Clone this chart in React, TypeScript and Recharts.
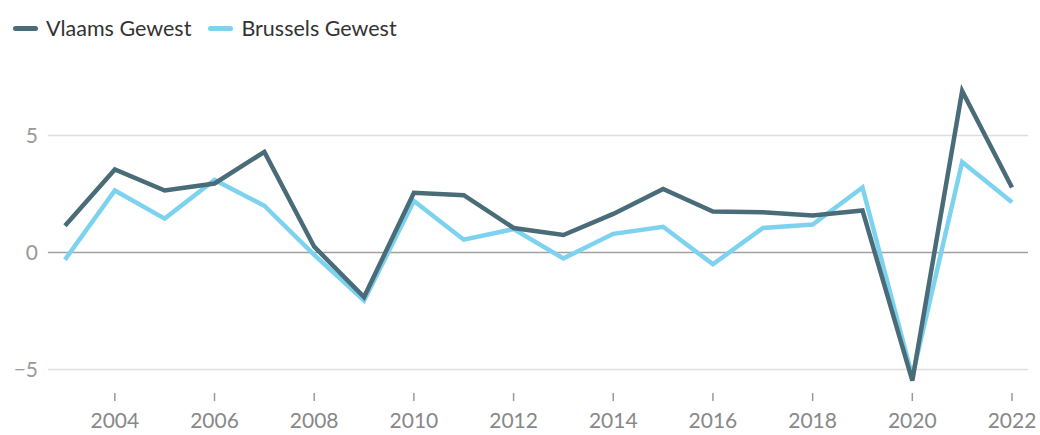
import React from 'react';
import { LineChart, Line, XAxis, YAxis, ReferenceLine } from 'recharts';

const years = [2003, 2004, 2005, 2006, 2007, 2008, 2009, 2010, 2011, 2012, 2013, 2014, 2015, 2016, 2017, 2018, 2019, 2020, 2021, 2022];
const vlaams = [1.15, 3.55, 2.65, 2.95, 4.3, 0.25, -1.9, 2.55, 2.45, 1.05, 0.75, 1.65, 2.72, 1.75, 1.72, 1.58, 1.8, -5.47, 6.9, 2.78];
const brussels = [-0.3, 2.65, 1.45, 3.1, 2.0, -0.1, -2.05, 2.2, 0.55, 1.0, -0.25, 0.8, 1.1, -0.5, 1.05, 1.2, 2.78, -5.3, 3.87, 2.15];
const xTicks = [2004, 2006, 2008, 2010, 2012, 2014, 2016, 2018, 2020, 2022];
const yTicks = [-5, 0, 5];
const gridValues = [-5, 5];

const DARK = '#4a6b78';
const LIGHT = '#7dd3ef';
const FONT = 'Lato, "Noto Sans", sans-serif';

const data = years.map((year, i) => ({
  year,
  'Vlaams Gewest': vlaams[i],
  'Brussels Gewest': brussels[i],
}));

const legendItems = [
  { name: 'Vlaams Gewest', color: DARK },
  { name: 'Brussels Gewest', color: LIGHT },
];

const App: React.FC = () => {
  return (
    <div style={{ position: 'absolute', left: 0, top: 0, width: 1040, height: 435, fontFamily: FONT, background: '#fff' }}>
      <div style={{ position: 'absolute', left: 13, top: 15, display: 'flex', alignItems: 'center', fontSize: 21.5, color: '#333' }}>
        {legendItems.map((item) => (
          <div key={item.name} style={{ display: 'flex', alignItems: 'center', marginRight: 17 }}>
            <span style={{ display: 'inline-block', width: 25, height: 5, borderRadius: 3, background: item.color, marginRight: 8 }} />
            <span>{item.name}</span>
          </div>
        ))}
      </div>
      <LineChart width={1040} height={435} data={data} margin={{ top: 77, right: 12, bottom: 12, left: 0 }}>
        {gridValues.map((v) => (
          <ReferenceLine key={v} y={v} stroke="#dedede" strokeWidth={1.5} />
        ))}
        <ReferenceLine y={0} stroke="#a0a0a0" strokeWidth={1.5} />
        <XAxis
          dataKey="year"
          type="number"
          domain={[2003, 2022]}
          ticks={xTicks}
          padding={{ left: 17, right: 16 }}
          axisLine={false}
          tickLine={{ stroke: '#999', strokeWidth: 1.5 }}
          tickSize={8}
          tickMargin={12}
          height={30}
          tick={{ fill: '#888', fontSize: 21, fontFamily: FONT }}
        />
        <YAxis
          domain={[-6, 7.5]}
          ticks={yTicks}
          allowDataOverflow
          width={48}
          axisLine={false}
          tickLine={false}
          tickSize={0}
          tickMargin={10}
          tickFormatter={(v: number) => String(v).replace('-', '\u2212')}
          tick={{ fill: '#999', fontSize: 21, fontFamily: FONT }}
        />
        <Line type="linear" dataKey="Brussels Gewest" stroke={LIGHT} strokeWidth={4.5} dot={false} isAnimationActive={false} />
        <Line type="linear" dataKey="Vlaams Gewest" stroke={DARK} strokeWidth={4.5} dot={false} isAnimationActive={false} />
      </LineChart>
    </div>
  );
};

export default App;
